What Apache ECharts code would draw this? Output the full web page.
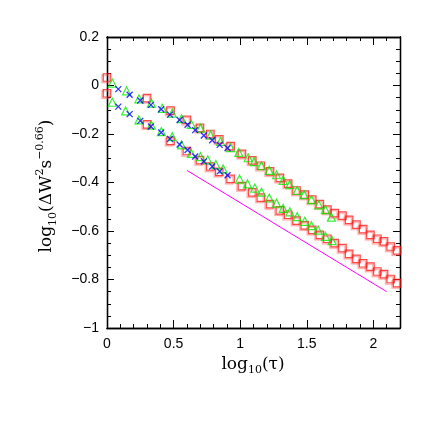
<!DOCTYPE html>
<html>
<head>
<meta charset="utf-8">
<script src="https://cdn.jsdelivr.net/npm/echarts@6/dist/echarts.min.js"></script>
<style>
  html, body { margin: 0; padding: 0; background: #fff; }
  #chart { width: 436px; height: 436px; }
</style>
</head>
<body>
<div id="chart"></div>
<script>
// red squares (two branches)
var redX = [0, 0.301, 0.477, 0.6, 0.698, 0.776, 0.843, 0.928, 1.013, 1.091, 1.155, 1.224, 1.298, 1.36, 1.423, 1.485, 1.541, 1.598, 1.655, 1.71, 1.768, 1.818, 1.873, 1.923, 1.978, 2.03, 2.08, 2.13, 2.178];
var redUpper = [0.033, -0.052, -0.104, -0.142, -0.175, -0.2, -0.222, -0.25, -0.282, -0.309, -0.331, -0.354, -0.381, -0.405, -0.433, -0.45, -0.471, -0.489, -0.512, -0.526, -0.537, -0.554, -0.574, -0.592, -0.616, -0.632, -0.643, -0.664, -0.68];
var redLower = [-0.032, -0.16, -0.228, -0.27, -0.308, -0.334, -0.356, -0.385, -0.415, -0.441, -0.462, -0.489, -0.515, -0.533, -0.557, -0.577, -0.595, -0.616, -0.632, -0.65, -0.671, -0.694, -0.715, -0.733, -0.747, -0.767, -0.778, -0.798, -0.815];

// green triangles
var greenUpperX = [0.04, 0.147, 0.24, 0.333, 0.415, 0.49, 0.56, 0.633, 0.702, 0.777, 0.852, 0.928, 0.99, 1.06, 1.105, 1.16, 1.218, 1.273, 1.323, 1.373, 1.428, 1.48, 1.535, 1.59, 1.64, 1.685];
var greenUpper = [0.01, -0.022, -0.055, -0.073, -0.094, -0.114, -0.137, -0.16, -0.176, -0.204, -0.231, -0.256, -0.276, -0.298, -0.314, -0.331, -0.35, -0.368, -0.391, -0.409, -0.433, -0.45, -0.471, -0.492, -0.512, -0.543];
var greenLowerX = [0.04, 0.14, 0.24, 0.333, 0.408, 0.49, 0.56, 0.633, 0.702, 0.757, 0.817, 0.872, 0.995, 1.055, 1.11, 1.16, 1.218, 1.273, 1.323, 1.373, 1.428, 1.485, 1.535, 1.585, 1.64, 1.69];
var greenLower = [-0.069, -0.105, -0.142, -0.163, -0.19, -0.211, -0.245, -0.28, -0.293, -0.307, -0.326, -0.344, -0.386, -0.406, -0.423, -0.44, -0.464, -0.485, -0.507, -0.521, -0.541, -0.56, -0.578, -0.596, -0.622, -0.64];

// blue crosses
var blueX = [0.085, 0.17, 0.25, 0.33, 0.407, 0.473, 0.545, 0.605, 0.662, 0.727, 0.79, 0.846, 0.905];
var blueUpper = [-0.015, -0.038, -0.062, -0.08, -0.098, -0.12, -0.142, -0.162, -0.184, -0.206, -0.226, -0.245, -0.258];
var blueLower = [-0.087, -0.118, -0.146, -0.169, -0.194, -0.22, -0.243, -0.266, -0.293, -0.313, -0.334, -0.354, -0.37];

// reference slope line
var refLineX = [0.6, 2.1];
var refLineY = [-0.35, -0.85];

function zip(xs, ys) {
  return xs.map(function (x, i) { return [x, ys[i]]; });
}

var tickFont = { fontFamily: 'Liberation Sans', fontSize: 14, color: '#000' };
function fmt(v) {
  var s = String(Math.round(v * 100) / 100);
  return s.charAt(0) === '-' ? '\u2212' + s.slice(1) : s;
}

function xAx(pos, major, labels) {
  return {
    type: 'value', position: pos, min: 0, max: 2.2, interval: major ? 0.5 : 0.1,
    axisLine: { show: true, onZero: false, lineStyle: { color: '#000', width: 1.3 } },
    axisTick: { show: true, inside: true, length: major ? 8 : 4, lineStyle: { color: '#000', width: 1 } },
    axisLabel: labels ? Object.assign({ show: true, margin: 9, showMaxLabel: false, formatter: fmt }, tickFont) : { show: false },
    splitLine: { show: false }
  };
}
function yAx(pos, major, labels) {
  return {
    type: 'value', position: pos, min: -1, max: 0.2, interval: major ? 0.2 : 0.05,
    axisLine: { show: true, onZero: false, lineStyle: { color: '#000', width: 1.3 } },
    axisTick: { show: true, inside: true, length: major ? 7 : 4, lineStyle: { color: '#000', width: 1 } },
    axisLabel: labels ? Object.assign({ show: true, margin: 8, formatter: fmt }, tickFont) : { show: false },
    splitLine: { show: false }
  };
}

var squareStyle = {
  color: 'rgba(0,0,0,0)', borderColor: '#ff1a1a', borderWidth: 1.2,
  shadowColor: 'rgba(255,80,80,0.7)', shadowBlur: 1, shadowOffsetX: -1.3, shadowOffsetY: 1.3
};
var triStyle = { color: 'rgba(0,0,0,0)', borderColor: '#00ee00', borderWidth: 1.2 };
var crossStyle = { color: 'rgba(0,0,0,0)', borderColor: '#0000ff', borderWidth: 1.3 };
var crossPath = 'path://M0,0L10,10M10,0L0,10';

function scatter(data, symbol, size, style) {
  return { type: 'scatter', data: data, symbol: symbol, symbolSize: size, itemStyle: style, silent: true, animation: false };
}

var chart = echarts.init(document.getElementById('chart'), null, { renderer: 'canvas' });
chart.setOption({
  animation: false,
  backgroundColor: '#fff',
  grid: { left: 107, top: 37, width: 293, height: 291, containLabel: false },
  xAxis: [xAx('bottom', true, true), xAx('bottom', false, false), xAx('top', true, false), xAx('top', false, false)],
  yAxis: [yAx('left', true, true), yAx('left', false, false), yAx('right', true, false), yAx('right', false, false)],
  series: [
    scatter(zip(redX, redUpper), 'rect', 7.5, squareStyle),
    scatter(zip(redX, redLower), 'rect', 7.5, squareStyle),
    scatter(zip(greenUpperX, greenUpper), 'triangle', 8, triStyle),
    scatter(zip(greenLowerX, greenLower), 'triangle', 8, triStyle),
    scatter(zip(blueX, blueUpper), crossPath, 6, crossStyle),
    scatter(zip(blueX, blueLower), crossPath, 6, crossStyle),
    {
      type: 'line', data: zip(refLineX, refLineY), symbol: 'none', silent: true,
      lineStyle: { color: '#ff00ff', width: 1 }
    }
  ],
  graphic: [
    {
      type: 'text', x: 253, y: 365,
      style: {
        text: '{a|log}{s|10}{a|(\u03c4)}',
        align: 'center', verticalAlign: 'middle',
        rich: {
          a: { fontFamily: 'DejaVu Serif', fontSize: 17, lineHeight: 22, fill: '#000' },
          s: { fontFamily: 'DejaVu Serif', fontSize: 11, lineHeight: 12, verticalAlign: 'bottom', fill: '#000' }
        }
      }
    },
    {
      type: 'text', x: 47, y: 186, rotation: Math.PI / 2,
      style: {
        text: '{a|log}{s|10}{a|(\u0394W}{p|2}{a|s}{p|\u22120.66}{a|)}',
        align: 'center', verticalAlign: 'middle',
        rich: {
          a: { fontFamily: 'DejaVu Serif', fontSize: 17, lineHeight: 24, fill: '#000' },
          s: { fontFamily: 'DejaVu Serif', fontSize: 11, lineHeight: 12, verticalAlign: 'bottom', fill: '#000' },
          p: { fontFamily: 'DejaVu Serif', fontSize: 11, lineHeight: 12, verticalAlign: 'top', fill: '#000' }
        }
      }
    }
  ]
});
</script>
</body>
</html>
